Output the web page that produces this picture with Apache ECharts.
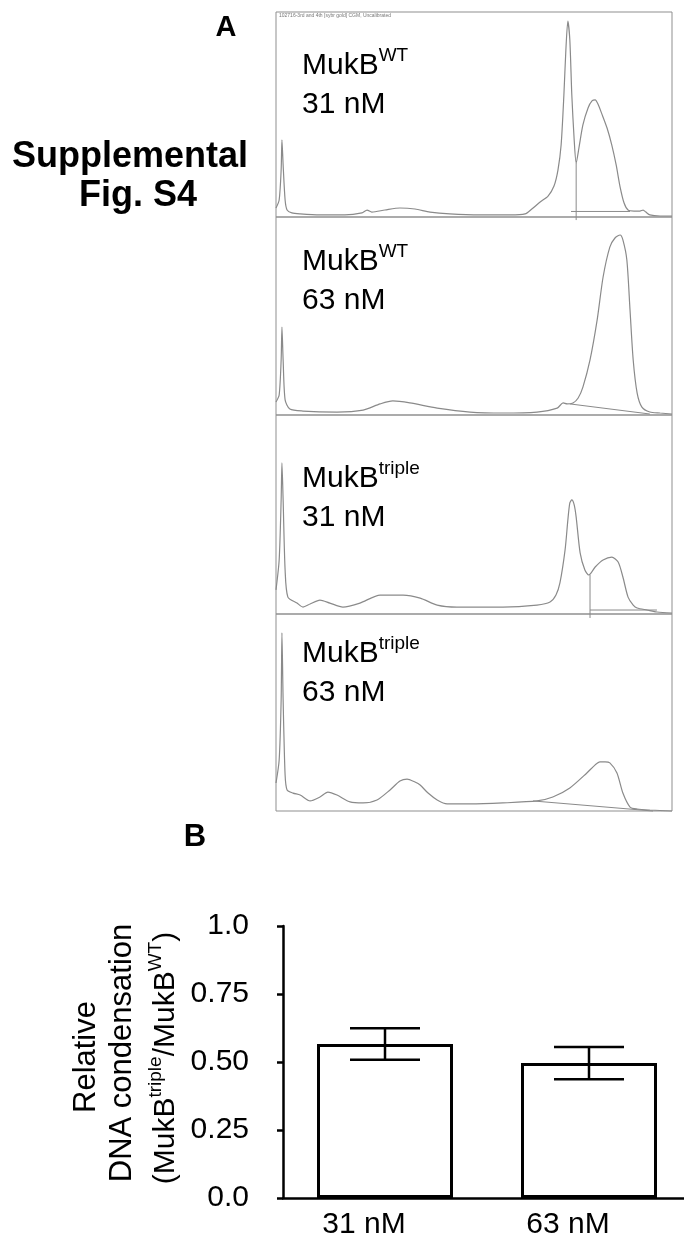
<!DOCTYPE html>
<html><head><meta charset="utf-8">
<script src="https://cdn.jsdelivr.net/npm/echarts@6/dist/echarts.min.js"></script>
<style>html,body{margin:0;padding:0;background:#fff}#c{width:684px;height:1242px}</style>
</head><body><div id="c"></div>
<script>
const FONT = "'Liberation Sans', Arial, Helvetica, sans-serif";

// ---- Panel A: chromatogram traces (retention, arbitrary 0-100; signal, % full scale) ----
const rt1  = [0,0.8,1.3,1.5,1.8,2.3,2.8,4.0,6.1,11.1,17.4,21.7,23.0,24.2,27.5,31.3,35.1,38.9,43.9,51.5,59.1,62.9,64.6,66.7,68.7,70.2,71.2,72.0,72.7,73.2,73.7,74.2,74.7,75.3,75.8,76.5,77.5,78.8,79.8,80.6,81.3,82.3,83.6,84.8,85.9,86.9,87.9,88.9,90.4,91.9,92.7,93.4,94.4,97.0,100];
const sig1 = [4.4,8.3,22.9,37.6,25.4,8.3,3.4,2.0,1.5,1.0,1.0,2.0,3.4,2.4,3.4,4.4,3.9,2.4,1.5,1.0,1.0,1.5,3.9,7.3,10.2,15.1,22.9,35.1,59.5,81.5,95.6,86.3,59.5,37.6,26.3,33.7,44.9,53.2,56.6,57.1,55.1,50.2,43.4,35.1,25.4,14.6,6.8,3.4,2.9,2.9,3.4,2.4,1.0,0.5,0.5];

const rt2  = [0,0.8,1.3,1.5,1.8,2.3,3.5,6.8,15.4,22.0,26.3,29.5,33.8,40.7,49.0,57.3,65.9,71.0,72.5,73.5,75.0,76.3,77.5,79.3,81.1,82.6,84.3,85.6,86.9,87.6,88.6,89.4,90.2,91.2,92.4,94.4,97.0,100];
const sig2 = [6.6,10.1,27.8,44.4,27.8,7.6,3.0,2.0,1.5,2.5,5.6,7.1,6.1,3.5,1.5,1.0,1.5,3.5,6.1,5.6,6.1,8.6,14.1,27.8,48.0,69.7,84.8,89.4,90.9,88.4,78.3,53.0,27.8,11.1,4.0,1.5,1.0,0.5];

const rt3  = [0,0.8,1.3,1.5,1.8,2.3,3.0,5.3,6.8,8.6,11.1,13.6,16.9,21.2,26.3,32.1,36.4,40.7,45.7,57.3,65.9,69.2,70.7,71.7,73.0,73.7,74.2,74.7,75.3,75.8,76.8,78.0,79.0,80.6,82.6,84.8,86.4,87.6,88.9,90.2,91.2,93.7,96.2,100];
const sig3 = [12.1,27.1,57.3,75.9,57.3,22.1,8.5,5.5,3.5,5.0,7.0,5.5,3.5,5.5,9.5,9.5,8.0,4.5,3.5,3.5,4.5,6.0,9.5,15.6,32.2,47.2,55.8,57.3,54.8,48.7,30.7,22.1,19.6,23.6,27.1,28.6,26.1,18.6,8.5,4.5,3.0,2.0,1.0,0.5];

const rt4  = [0,0.8,1.3,1.5,1.8,2.3,2.8,4.3,6.1,8.6,11.1,13.1,15.4,18.7,22.0,25.5,28.8,31.3,33.1,35.1,36.4,38.4,40.7,43.2,49.0,57.3,65.9,69.9,74.2,78.5,80.6,81.8,83.1,84.3,86.1,87.6,89.4,91.2,94.4,100];
const sig4 = [14.2,25.9,56.3,90.4,56.3,18.3,10.7,9.1,8.1,5.1,7.1,9.6,8.1,4.6,4.1,5.6,10.7,15.2,16.2,14.7,13.2,9.1,5.6,3.6,3.6,4.1,5.1,7.1,11.7,19.3,23.4,24.9,24.9,24.4,19.3,9.1,2.0,1.0,0.5,0];

// integration baselines and drop lines
const base1 = [[74.5,2.7],[89.4,2.7]];
const drop1 = [[75.8,26.3],[75.8,-1.5]];
const base2 = [[74.2,5.6],[94.4,0.5]];
const base3 = [[79.3,2.0],[96.2,2.0]];
const drop3 = [[79.3,19.6],[79.3,-2.0]];
const base4 = [[64.9,5.1],[95.2,0]];

const panelProtein = ['WT','WT','triple','triple'];
const panelConc    = ['31 nM','63 nM','31 nM','63 nM'];

// ---- Panel B: bar chart ----
const categories = ['31 nM','63 nM'];
const means = [0.566, 0.496];
const sems  = [0.058, 0.059];
const yTickLabels = ['0.0','0.25','0.50','0.75','1.0'];

// ---- layout ----
const panelTops = [12, 217, 415, 614];
const panelHeights = [205, 198, 199, 197];
const labelTops = [46, 242, 459, 634];

const traces = [[rt1,sig1],[rt2,sig2],[rt3,sig3],[rt4,sig4]];
const extras = [[base1,drop1],[base2],[base3,drop3],[base4]];

const grids = [], xAxes = [], yAxes = [], series = [];
traces.forEach((t, i) => {
  grids.push({left:276, width:396, top:panelTops[i], height:panelHeights[i], show:true,
    borderColor:'#8f8f8f', borderWidth:1, backgroundColor:'transparent', outerBoundsMode:'none'});
  xAxes.push({type:'value', gridIndex:i, min:0, max:100, show:false});
  yAxes.push({type:'value', gridIndex:i, min:0, max:100, show:false});
  series.push({type:'line', xAxisIndex:i, yAxisIndex:i, data:t[0].map((x,k)=>[x,t[1][k]]),
    showSymbol:false, smooth:0.25, lineStyle:{color:'#8a8a8a', width:1.2}, silent:true, clip:false});
  extras[i].forEach(seg => {
    series.push({type:'line', xAxisIndex:i, yAxisIndex:i, data:seg, showSymbol:false,
      lineStyle:{color:'#8a8a8a', width:1}, silent:true, clip:false});
  });
});

// bar grid
grids.push({left:283, top:926, width:408, height:272, outerBoundsMode:'none', containLabel:false});
xAxes.push({type:'category', gridIndex:4, data:categories,
  axisLine:{lineStyle:{color:'#000', width:2.5}},
  axisTick:{alignWithLabel:true, length:7, lineStyle:{color:'#000', width:2.5}},
  axisLabel:{color:'#000', fontSize:30, fontFamily:FONT, margin:12, padding:[0,42,0,0]}});
yAxes.push({type:'value', gridIndex:4, min:0, max:1, interval:0.25,
  axisLine:{show:true, lineStyle:{color:'#000', width:2.5}},
  axisTick:{show:true, length:6, lineStyle:{color:'#000', width:2.5}},
  splitLine:{show:false},
  axisLabel:{color:'#000', fontSize:30, fontFamily:FONT, margin:34,
    formatter: v => yTickLabels[Math.round(v/0.25)]}});

series.push({type:'bar', xAxisIndex:4, yAxisIndex:4, data:means, barWidth:136,
  itemStyle:{color:'#fff', borderColor:'#000', borderWidth:3}, silent:true});
series.push({type:'custom', xAxisIndex:4, yAxisIndex:4, z:10, silent:true,
  data: means.map((m,i)=>[i, m - sems[i], m + sems[i]]),
  encode:{x:0, y:[1,2]},
  renderItem(params, api){
    const x = api.value(0);
    const lo = api.coord([x, api.value(1)]);
    const hi = api.coord([x, api.value(2)]);
    const hw = 35;
    const style = {stroke:'#000', lineWidth:2.5};
    return {type:'group', children:[
      {type:'line', shape:{x1:lo[0], y1:lo[1], x2:hi[0], y2:hi[1]}, style},
      {type:'line', shape:{x1:lo[0]-hw, y1:lo[1], x2:lo[0]+hw, y2:lo[1]}, style},
      {type:'line', shape:{x1:hi[0]-hw, y1:hi[1], x2:hi[0]+hw, y2:hi[1]}, style}
    ]};
  }});

const rich = {
  m:{fontSize:30, lineHeight:39, fontFamily:FONT, color:'#000'},
  s:{fontSize:19, lineHeight:26, fontFamily:FONT, color:'#000', verticalAlign:'top'}
};

const graphics = [
  {type:'text', x:226, y:28, style:{text:'A', font:'bold 29px '+FONT, fill:'#000', align:'center', verticalAlign:'middle'}},
  {type:'text', x:130, y:157, style:{text:'Supplemental', font:'bold 36px '+FONT, fill:'#000', align:'center', verticalAlign:'middle'}},
  {type:'text', x:138, y:196, style:{text:'Fig. S4', font:'bold 36px '+FONT, fill:'#000', align:'center', verticalAlign:'middle'}},
  {type:'text', x:279, y:16, style:{text:'102716-3rd and 4th [sybr gold] CGM, Uncalibrated', font:'5px '+FONT, fill:'#777', align:'left', verticalAlign:'middle'}},
  {type:'text', x:195, y:837, style:{text:'B', font:'bold 31px '+FONT, fill:'#000', align:'center', verticalAlign:'middle'}},
  {type:'text', x:86, y:1057, rotation:Math.PI/2, style:{text:'Relative', font:'31px '+FONT, fill:'#000', align:'center', verticalAlign:'middle'}},
  {type:'text', x:122, y:1053, rotation:Math.PI/2, style:{text:'DNA condensation', font:'31px '+FONT, fill:'#000', align:'center', verticalAlign:'middle'}},
  {type:'text', x:166, y:1058, rotation:Math.PI/2, style:{text:'{m|(MukB}{s|triple}{m|/MukB}{s|WT}{m|)}', rich, align:'center', verticalAlign:'middle'}}
];
panelProtein.forEach((p,i) => {
  graphics.push({type:'text', x:302, y:labelTops[i], style:{
    text:'{m|MukB}{s|'+p+'}\n{m|'+panelConc[i]+'}', rich, align:'left', verticalAlign:'top'}});
});

const chart = echarts.init(document.getElementById('c'), null, {renderer:'canvas'});
chart.setOption({
  animation:false,
  backgroundColor:'#fff',
  grid:grids, xAxis:xAxes, yAxis:yAxes, series, graphic:graphics
});
</script></body></html>
